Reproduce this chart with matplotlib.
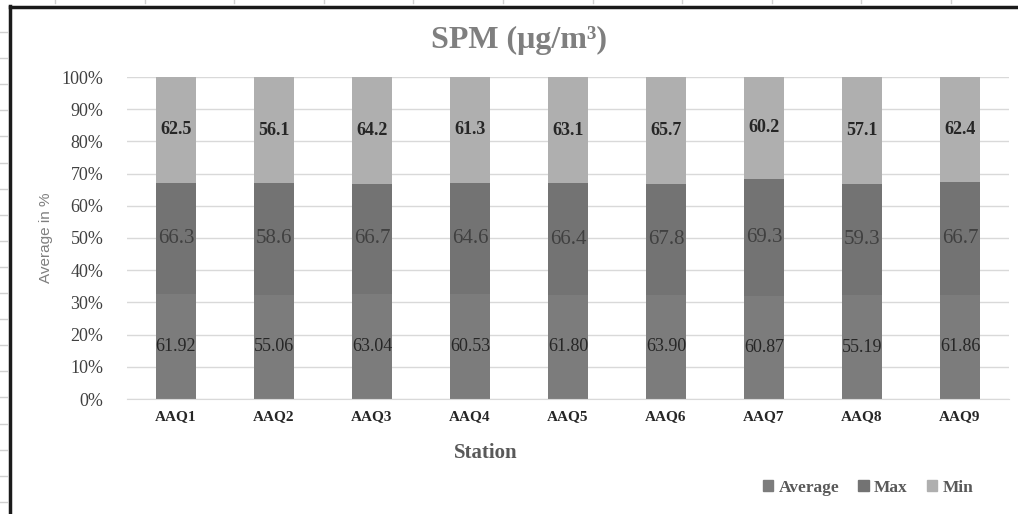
import numpy as np
import matplotlib
matplotlib.use('Agg')
import matplotlib.pyplot as plt
from matplotlib.lines import Line2D
from matplotlib.patches import Patch

stations = ['AAQ1', 'AAQ2', 'AAQ3', 'AAQ4', 'AAQ5', 'AAQ6', 'AAQ7', 'AAQ8', 'AAQ9']
average = [61.92, 55.06, 63.04, 60.53, 61.80, 63.90, 60.87, 55.19, 61.86]
max_vals = [66.3, 58.6, 66.7, 64.6, 66.4, 67.8, 69.3, 59.3, 66.7]
min_vals = [62.5, 56.1, 64.2, 61.3, 63.1, 65.7, 60.2, 57.1, 62.4]

W, H = 1018, 514
serif = ['Liberation Serif', 'DejaVu Serif']

fig = plt.figure(figsize=(W / 100, H / 100), dpi=100)
ax = fig.add_axes([127 / W, 1 - 399 / H, (1009 - 127) / W, (399 - 77) / H])

avg = np.array(average)
mx = np.array(max_vals)
mn = np.array(min_vals)
tot = avg + mx + mn
pa, pm, pn = avg / tot * 100, mx / tot * 100, mn / tot * 100

x = np.arange(len(stations))
bw = 0.4
c_avg, c_max, c_min = '#7c7c7c', '#737373', '#afafaf'
ax.bar(x, pa, bw, color=c_avg, zorder=2)
ax.bar(x, pm, bw, bottom=pa, color=c_max, zorder=2)
ax.bar(x, pn, bw, bottom=pa + pm, color=c_min, zorder=2)

for i in range(len(stations)):
    ax.text(x[i], pa[i] / 2, '%.2f' % average[i], ha='center', va='center',
            fontsize=13, family=serif, color='#262626', zorder=3)
    ax.text(x[i], pa[i] + pm[i] / 2, '%.1f' % max_vals[i], ha='center', va='center',
            fontsize=15, family=serif, color='#404040', zorder=3)
    ax.text(x[i], pa[i] + pm[i] + pn[i] / 2, '%.1f' % min_vals[i], ha='center', va='center',
            fontsize=13, family=serif, fontweight='bold', color='#262626', zorder=3)

ax.set_xlim(-0.5, len(stations) - 0.5)
ax.set_ylim(0, 100)
ax.set_yticks(np.arange(0, 101, 10))
ax.set_yticklabels(['%d%%' % v for v in range(0, 101, 10)], family=serif,
                   fontsize=13, color='#404040')
ax.set_xticks(x)
ax.set_xticklabels(stations, family=serif, fontsize=11, fontweight='bold', color='#262626')
ax.tick_params(length=0, pad=8)
ax.tick_params(axis='y', pad=17)
ax.yaxis.grid(True, color='#d9d9d9', lw=1, zorder=0)
for s in ['top', 'right', 'left']:
    ax.spines[s].set_visible(False)
ax.spines['bottom'].set_color('#d9d9d9')

fig.text(519 / W, 1 - 40 / H, 'SPM (μg/m³)', ha='center', va='center', family=serif,
         fontsize=23, fontweight='bold', color='#7f7f7f')
fig.text(486 / W, 1 - 453 / H, 'Station', ha='center', va='center', family=serif,
         fontsize=15, fontweight='bold', color='#595959')
fig.text(46 / W, 1 - 238 / H, 'Average in %', ha='center', va='center', rotation=90,
         family=['Liberation Sans', 'DejaVu Sans'], fontsize=11, color='#7f7f7f')

handles = [Patch(color=c_avg), Patch(color=c_max), Patch(color=c_min)]
fig.legend(handles, ['Average', 'Max', 'Min'], loc='center', ncol=3, frameon=False,
           bbox_to_anchor=(868 / W, 1 - 488 / H), handlelength=0.6, handleheight=0.6,
           handletextpad=0.3, columnspacing=1.1,
           prop={'family': serif, 'size': 12.5, 'weight': 'bold'}, labelcolor='#595959')

# spreadsheet frame behind the chart
fig.add_artist(Line2D([10 / W, 10 / W], [0, 1 - 6 / H], color='#1a1a1a', lw=2.5))
fig.add_artist(Line2D([10 / W, 1], [1 - 7 / H, 1 - 7 / H], color='#1a1a1a', lw=2.5))
for yy in np.arange(32, H, 26.1):
    fig.add_artist(Line2D([0, 7 / W], [1 - yy / H] * 2, color='#d0d0d0', lw=1))
for xx in np.arange(55, W, 89.6):
    fig.add_artist(Line2D([xx / W] * 2, [1, 1 - 3 / H], color='#d0d0d0', lw=1))

plt.savefig('out.png', dpi=100)
